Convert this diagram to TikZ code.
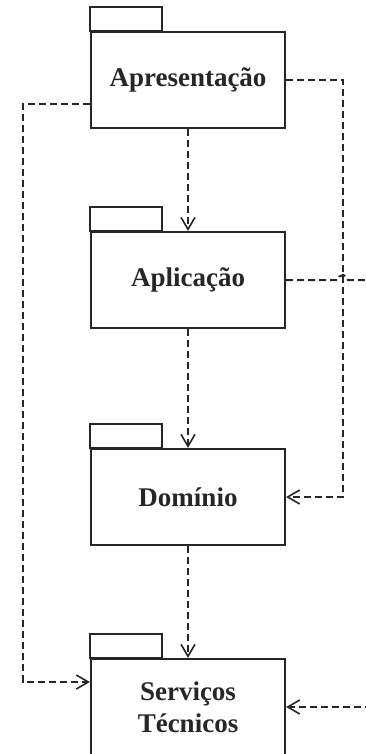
\documentclass[tikz,border=0pt]{standalone}
\usepackage{fontspec}
\setmainfont{Liberation Serif}
\usetikzlibrary{arrows.meta}

\definecolor{ink}{gray}{0.15}

\tikzset{
  pkg/.style={draw=ink, line width=2.2pt, minimum width=194pt, minimum height=96pt,
              inner sep=0pt, align=center, text=ink,
              font=\fontsize{27}{32}\selectfont\bfseries},
  pkgtab/.style={draw=ink, line width=2pt},
  deppath/.style={draw=ink, line width=2pt, dash pattern=on 7pt off 4pt},
  dep/.style={deppath,
              -{Straight Barb[length=12pt, width=14pt, line width=1.6pt]}}
}

\begin{document}
\begin{tikzpicture}[x=1pt, y=-1pt]
  \useasboundingbox (0,0) rectangle (366,754);
  \clip (0,0) rectangle (366,754);

  % package bodies
  \node[pkg] (apr) at (188, 80)  {Apresentação};
  \node[pkg] (apl) at (188, 280) {Aplicação};
  \node[pkg] (dom) at (188, 497) {Domínio};
  \node[pkg] (srv) at (188, 707) {Serviços\\Técnicos};

  % package tabs
  \foreach \p in {apr, apl, dom, srv}
    \draw[pkgtab] (\p.north west) rectangle ++(72,-24);

  % vertical layer dependencies
  \draw[dep] (apr.south) -- (apl.north);
  \draw[dep] (apl.south) -- (dom.north);
  \draw[dep] (dom.south) -- (srv.north);

  % Apresentação -> Serviços Técnicos (left side)
  \coordinate (lft) at (23, 104);
  \draw[dep] ([yshift=-24pt]apr.west) -- (lft) |- ([yshift=25pt]srv.west);

  % Apresentação -> Domínio (right side)
  \coordinate (rgt) at (343, 80);
  \draw[dep] (apr.east) -- (rgt) |- (dom.east);

  % Aplicação -> Serviços Técnicos (leaves the frame on the right)
  \coordinate (hop) at (338, 280);
  \coordinate (far) at (385, 280);
  \draw[deppath] (apl.east) -- (hop) arc (180:360:5) -- (far);
  \draw[dep] (far) |- (srv.east);
\end{tikzpicture}
\end{document}
